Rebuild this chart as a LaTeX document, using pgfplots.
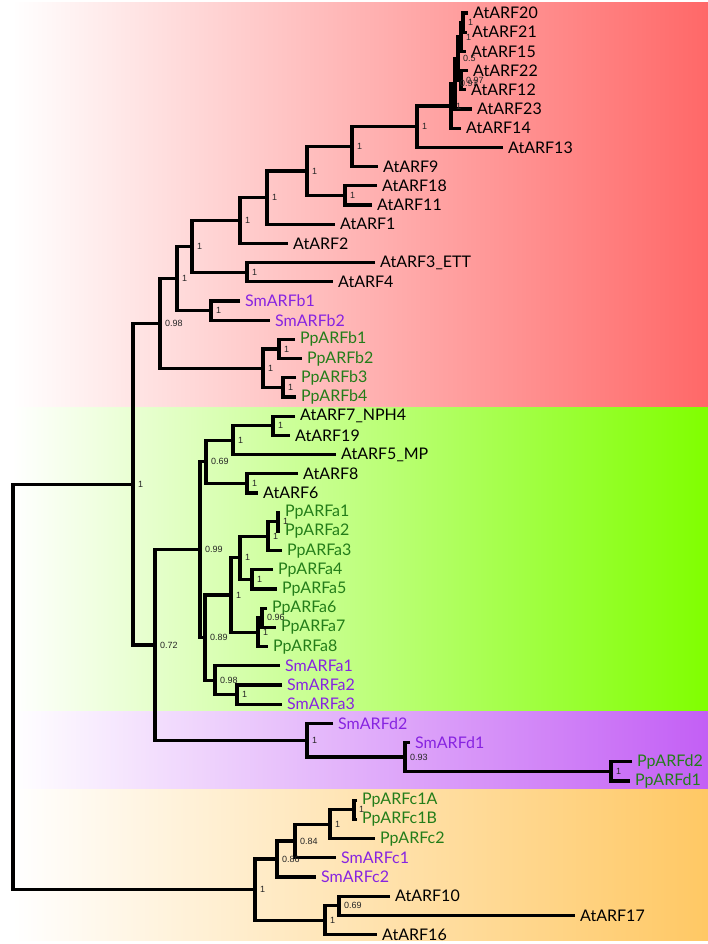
\documentclass[border=0pt]{standalone}
\usepackage{pgfplots}
\pgfplotsset{compat=1.18}
\usepackage{fontspec}
\newfontfamily\leaffont{Lato}
\newfontfamily\bsfont{Liberation Sans}
\definecolor{SmCol}{RGB}{135,35,225}
\definecolor{PpCol}{RGB}{35,125,25}
\definecolor{bandR}{RGB}{255,104,104}
\definecolor{bandG}{RGB}{128,255,0}
\definecolor{bandP}{RGB}{195,95,245}
\definecolor{bandO}{RGB}{255,200,100}
\begin{document}
\begin{tikzpicture}
\begin{axis}[
  scale only axis, width=708pt, height=944pt,
  xmin=0, xmax=708, ymin=0, ymax=944, y dir=reverse,
  hide axis, clip=false,
  unbounded coords=jump,
  leaf/.style={draw=none, only marks, mark=*, mark size=0pt, mark options={draw=none,fill=none},
    nodes near coords, point meta=explicit symbolic,
    nodes near coords style={anchor=west, inner sep=0pt, xshift=5pt, font=\leaffont\fontsize{16}{16}\selectfont}},
  boot/.style={draw=none, only marks, mark=*, mark size=0pt, mark options={draw=none,fill=none},
    nodes near coords, point meta=explicit symbolic,
    nodes near coords style={anchor=west, inner sep=0pt, xshift=5pt, font=\bsfont\fontsize{9}{9}\selectfont, text=black!85}},
]
\addplot[draw=none] coordinates {(0,0) (708,944)};
% background bands
\addplot[draw=none, left color=white, right color=bandR] coordinates {(12,3) (708,3) (708,407) (12,407) (12,3)};
\addplot[draw=none, left color=white, right color=bandG] coordinates {(12,407) (708,407) (708,711) (12,711) (12,407)};
\addplot[draw=none, left color=white, right color=bandP] coordinates {(12,711) (708,711) (708,789) (12,789) (12,711)};
\addplot[draw=none, left color=white, right color=bandO] coordinates {(12,789) (708,789) (708,940) (12,940) (12,789)};
% tree
\addplot[black, line width=3.3pt, line join=miter, mark=none] coordinates {
(468,13) (463,13) (463,32.2) (467,32.2) (nan,nan)
(463,22.6) (461,22.6) (461,51.4) (466,51.4) (nan,nan)
(468,70.6) (461,70.6) (461,89.8) (466,89.8) (nan,nan)
(461,37) (458,37) (458,80.2) (461,80.2) (nan,nan)
(458,58.6) (455,58.6) (455,109) (472,109) (nan,nan)
(455,83.8) (451,83.8) (451,128.2) (461,128.2) (nan,nan)
(451,106) (417,106) (417,147.4) (503,147.4) (nan,nan)
(417,126.7) (352,126.7) (352,166.6) (378,166.6) (nan,nan)
(377,185.8) (345,185.8) (345,205) (372,205) (nan,nan)
(352,146.65) (307,146.65) (307,195.4) (345,195.4) (nan,nan)
(307,171) (267,171) (267,224.2) (335,224.2) (nan,nan)
(267,197.6) (240,197.6) (240,243.4) (288,243.4) (nan,nan)
(375,262.6) (247,262.6) (247,281.8) (333,281.8) (nan,nan)
(240,220.5) (192,220.5) (192,272.2) (247,272.2) (nan,nan)
(240,301) (211,301) (211,320.2) (270,320.2) (nan,nan)
(192,246.35) (177,246.35) (177,310.6) (211,310.6) (nan,nan)
(295,339.4) (279,339.4) (279,358.6) (302,358.6) (nan,nan)
(296,377.8) (283,377.8) (283,397) (296,397) (nan,nan)
(279,349) (263,349) (263,387.4) (283,387.4) (nan,nan)
(177,278.5) (160,278.5) (160,368.2) (263,368.2) (nan,nan)
(295,416.2) (273,416.2) (273,435.4) (290,435.4) (nan,nan)
(273,425.8) (233,425.8) (233,454.6) (336,454.6) (nan,nan)
(298,473.8) (247,473.8) (247,493) (258,493) (nan,nan)
(233,440.2) (206,440.2) (206,483.4) (247,483.4) (nan,nan)
(280,512.2) (278,512.2) (278,531.4) (280,531.4) (nan,nan)
(278,521.8) (268,521.8) (268,550.6) (282,550.6) (nan,nan)
(273,569.8) (252,569.8) (252,589) (277,589) (nan,nan)
(268,536.2) (240,536.2) (240,579.4) (252,579.4) (nan,nan)
(267,608.2) (262,608.2) (262,627.4) (276,627.4) (nan,nan)
(262,617.8) (258,617.8) (258,646.6) (268,646.6) (nan,nan)
(240,557.8) (231,557.8) (231,632.2) (258,632.2) (nan,nan)
(282,685) (237,685) (237,704.2) (282,704.2) (nan,nan)
(280,665.8) (215,665.8) (215,694.6) (237,694.6) (nan,nan)
(231,595) (205,595) (205,680.2) (215,680.2) (nan,nan)
(206,461.8) (200,461.8) (200,637.6) (205,637.6) (nan,nan)
(632,761.8) (611,761.8) (611,781) (630,781) (nan,nan)
(410,742.6) (405,742.6) (405,771.4) (611,771.4) (nan,nan)
(333,723.4) (307,723.4) (307,757) (405,757) (nan,nan)
(200,549.7) (155,549.7) (155,740.2) (307,740.2) (nan,nan)
(160,323.35) (133,323.35) (133,644.95) (155,644.95) (nan,nan)
(357,800.2) (354,800.2) (354,819.4) (357,819.4) (nan,nan)
(354,809.8) (330,809.8) (330,838.6) (375,838.6) (nan,nan)
(330,824.2) (295,824.2) (295,857.8) (336,857.8) (nan,nan)
(295,841) (277,841) (277,877) (316,877) (nan,nan)
(390,896.2) (339,896.2) (339,915.4) (575,915.4) (nan,nan)
(339,905.8) (325,905.8) (325,934.6) (377,934.6) (nan,nan)
(277,859) (255,859) (255,920.2) (325,920.2) (nan,nan)
(133,484.15) (13,484.15) (13,889.6) (255,889.6)
};
% leaf labels: Arabidopsis
\addplot[leaf, nodes near coords style={text=black}] coordinates {
(468,13) [AtARF20] (467,32.2) [AtARF21] (466,51.4) [AtARF15] (468,70.6) [AtARF22]
(466,89.8) [AtARF12] (472,109) [AtARF23] (461,128.2) [AtARF14] (503,147.4) [AtARF13]
(378,166.6) [AtARF9] (377,185.8) [AtARF18] (372,205) [AtARF11] (335,224.2) [AtARF1]
(288,243.4) [AtARF2] (375,262.6) [AtARF3\_ETT] (333,281.8) [AtARF4]
(295,416.2) [AtARF7\_NPH4] (290,435.4) [AtARF19] (336,454.6) [AtARF5\_MP]
(298,473.8) [AtARF8] (258,493) [AtARF6]
(390,896.2) [AtARF10] (575,915.4) [AtARF17] (377,934.6) [AtARF16]
};
% Selaginella
\addplot[leaf, nodes near coords style={text=SmCol}] coordinates {
(240,301) [SmARFb1] (270,320.2) [SmARFb2]
(280,665.8) [SmARFa1] (282,685) [SmARFa2] (282,704.2) [SmARFa3]
(333,723.4) [SmARFd2] (410,742.6) [SmARFd1]
(336,857.8) [SmARFc1] (316,877) [SmARFc2]
};
% Physcomitrella
\addplot[leaf, nodes near coords style={text=PpCol}] coordinates {
(295,339.4) [PpARFb1] (302,358.6) [PpARFb2] (296,377.8) [PpARFb3] (296,397) [PpARFb4]
(280,512.2) [PpARFa1] (280,531.4) [PpARFa2] (282,550.6) [PpARFa3]
(273,569.8) [PpARFa4] (277,589) [PpARFa5]
(267,608.2) [PpARFa6] (276,627.4) [PpARFa7] (268,646.6) [PpARFa8]
(632,761.8) [PpARFd2] (630,781) [PpARFd1]
(357,800.2) [PpARFc1A] (357,819.4) [PpARFc1B] (375,838.6) [PpARFc2]
};
% support values
\addplot[boot] coordinates {
(463,22.6) [1] (461,37) [1] (458,58.6) [0.5] (461,80.2) [0.97] (455,83.8) [0.97]
(451,106) [1] (417,126.7) [1] (352,146.65) [1] (345,195.4) [1] (307,171) [1]
(267,197.6) [1] (240,220.5) [1] (247,272.2) [1] (192,246.35) [1] (211,310.6) [1]
(177,278.5) [1] (279,349) [1] (283,387.4) [1] (263,368.2) [1] (160,323.35) [0.98]
(273,425.8) [1] (233,440.2) [1] (247,483.4) [1] (206,461.8) [0.69]
(278,521.8) [1] (268,536.2) [1] (252,579.4) [1] (240,557.8) [1]
(262,617.8) [0.96] (258,632.2) [1] (231,595) [1] (237,694.6) [1] (215,680.2) [0.98]
(205,637.6) [0.89] (200,549.7) [0.99]
(611,771.4) [1] (405,757) [0.93] (307,740.2) [1] (155,644.95) [0.72] (133,484.15) [1]
(354,809.8) [1] (330,824.2) [1] (295,841) [0.84] (277,859) [0.86]
(339,905.8) [0.69] (325,920.2) [1] (255,889.6) [1]
};
\end{axis}
\end{tikzpicture}
\end{document}
